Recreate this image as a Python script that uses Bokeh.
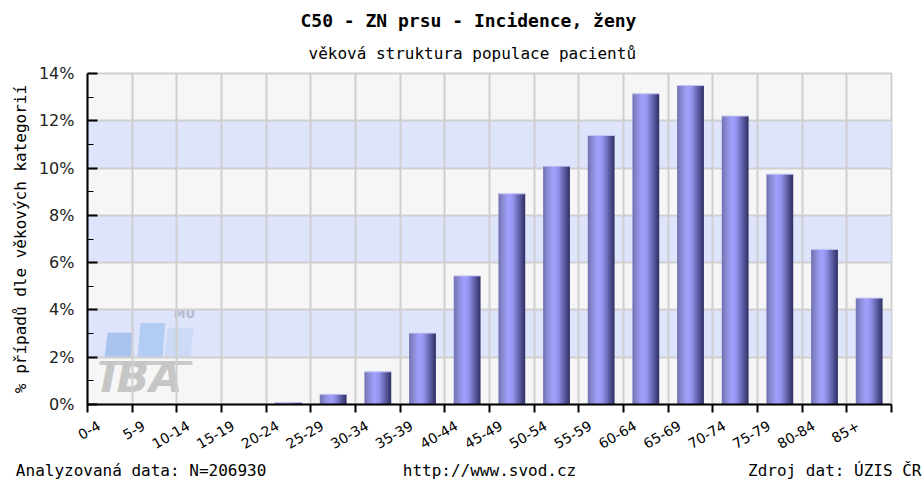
import math
from bokeh.plotting import figure
from bokeh.models import (ColumnDataSource, FixedTicker, Label, LinearAxis,
                          PrintfTickFormatter, Title)
from bokeh.transform import dodge
from bokeh.embed import file_html
from bokeh.resources import INLINE

# ---------------- data ----------------
categories = ["0-4", "5-9", "10-14", "15-19", "20-24", "25-29", "30-34", "35-39",
              "40-44", "45-49", "50-54", "55-59", "60-64", "65-69", "70-74",
              "75-79", "80-84", "85+"]
values = [0.0, 0.0, 0.0, 0.0, 0.08, 0.43, 1.38, 3.02, 5.44, 8.91, 10.08, 11.38,
          13.14, 13.49, 12.20, 9.74, 6.56, 4.50]
y_ticks = [0, 2, 4, 6, 8, 10, 12, 14]

title_text = "C50 - ZN prsu - Incidence, ženy"
subtitle_text = "věková struktura populace pacientů"
y_label_text = "% případů dle věkových kategorií"
footer_texts = ["Analyzovaná data: N=206930", "http://www.svod.cz", "Zdroj dat: ÚZIS ČR"]
footer_pos = [1.2, 9.0, 16.73]   # label centres along the x range

mono = "DejaVu Sans Mono"
sans = "DejaVu Sans"

# ---------------- figure ----------------
W, H = 924, 482
n = len(categories)
p = figure(width=W, height=H, output_backend="svg", toolbar_location=None,
           x_range=(0, n), y_range=(0, 14),
           min_border_left=87, min_border_right=33, min_border_top=73,
           min_border_bottom=78)
p.background_fill_color = "#f6f6f6"
p.border_fill_color = "white"
p.outline_line_color = "#cfcfcf"
p.outline_line_width = 2

# titles (first added = nearest the frame)
p.add_layout(Title(text=subtitle_text, text_font=mono, text_font_size="16px",
                   text_font_style="normal", align="left", offset=221,
                   standoff=22, text_color="black"), "above")
p.add_layout(Title(text=title_text, text_font=mono, text_font_size="18px",
                   text_font_style="bold", align="left", offset=213,
                   standoff=0, text_color="black"), "above")

# alternating bands
band_src = ColumnDataSource(dict(
    y=[y_ticks[i] + 1 for i in range(1, len(y_ticks) - 1, 2)]))
p.hbar(y="y", height=2, left=0, right=n, source=band_src,
       fill_color="#dde4fb", line_color=None, level="image")

# logo watermark (decoration)
logo_cols = ["#a9c3ee", "#b3ccf3", "#ccdaf6"]
logo_xs = [[0.381, 0.963, 1.030, 0.448],
           [1.119, 1.679, 1.746, 1.186],
           [1.724, 2.306, 2.373, 1.791]]
logo_ys = [[1.97, 1.97, 3.03, 3.03],
           [1.97, 1.97, 3.45, 3.45],
           [1.97, 1.97, 3.24, 3.24]]
p.patches(xs=logo_xs, ys=logo_ys, fill_color=logo_cols, line_color=None,
          level="image")
p.quad(left=[0.269], right=[2.351], bottom=[1.67], top=[1.84],
       fill_color="#c9c9c9", line_color=None, level="image")
p.add_layout(Label(x=0.29, y=0.12, text="IBA", text_font=sans,
                   text_font_style="bold italic", text_font_size="43px",
                   text_color="#c6c6c6", level="image"))
p.add_layout(Label(x=1.925, y=3.54, text="MU", text_font=sans,
                   text_font_style="bold", text_font_size="12px",
                   text_color="#b4bad2", level="image"))

# grid
p.xgrid.ticker = FixedTicker(ticks=list(range(n + 1)))
p.ygrid.ticker = FixedTicker(ticks=y_ticks)
p.xgrid.grid_line_color = "#cfcfcf"
p.ygrid.grid_line_color = "#cfcfcf"
p.xgrid.grid_line_width = 2
p.ygrid.grid_line_width = 2

# bars with cylinder-like shading
src = ColumnDataSource(dict(x=[i + 0.5 for i in range(n)], top=values))
bar_w = 0.6
stops = [(0.0, (0x70, 0x70, 0xb0)), (0.15, (0x88, 0x88, 0xd0)),
         (0.38, (0xa2, 0xa2, 0xff)), (0.55, (0x94, 0x94, 0xee)),
         (0.75, (0x66, 0x66, 0xb0)), (1.0, (0x2e, 0x2e, 0x62))]


def grad(t):
    for (t0, c0), (t1, c1) in zip(stops[:-1], stops[1:]):
        if t0 <= t <= t1:
            f = (t - t0) / (t1 - t0)
            return "#%02x%02x%02x" % tuple(int(round(a + (b - a) * f)) for a, b in zip(c0, c1))
    return "#2e2e62"


ns = 16
sw = bar_w / ns
for k in range(ns):
    wk = sw * 1.6 if k < ns - 1 else sw
    wk = min(wk, bar_w - k * sw)
    off = -bar_w / 2 + k * sw + wk / 2
    p.vbar(x=dodge("x", off, range=p.x_range), top="top", width=wk,
           source=src, fill_color=grad((k + 0.5) / ns), line_color=None)
p.segment(x0=dodge("x", -bar_w / 2, range=p.x_range), y0="top",
          x1=dodge("x", bar_w / 2, range=p.x_range), y1="top", source=src,
          line_color="#c4c4f4", line_width=1)

# x axis: boundary tick marks (minor) + shifted category labels (major)
label_shift = 0.26
xa = p.xaxis[0]
xa.ticker = FixedTicker(ticks=[i + label_shift for i in range(n)],
                        minor_ticks=list(range(n + 1)))
xa.major_label_overrides = {i + label_shift: c for i, c in enumerate(categories)}
xa.major_label_orientation = math.radians(30)
xa.axis_line_color = "black"
xa.axis_line_width = 2
xa.major_tick_line_color = None
xa.major_tick_in = 0
xa.major_tick_out = 0
xa.minor_tick_line_color = "black"
xa.minor_tick_line_width = 2
xa.minor_tick_in = 0
xa.minor_tick_out = 8
xa.major_label_text_font = sans
xa.major_label_text_font_size = "14px"
xa.major_label_text_color = "black"
xa.major_label_standoff = 12

# footer line carried by a bare axis below the category labels
fa = LinearAxis(ticker=FixedTicker(ticks=footer_pos),
                major_label_overrides={v: t for v, t in zip(footer_pos, footer_texts)})
fa.axis_line_color = None
fa.major_tick_line_color = None
fa.minor_tick_line_color = None
fa.major_tick_in = 0
fa.major_tick_out = 0
fa.major_label_text_font = mono
fa.major_label_text_font_size = "16px"
fa.major_label_text_color = "black"
fa.major_label_standoff = 4
p.add_layout(fa, "below")

ya = p.yaxis[0]
ya.ticker = FixedTicker(ticks=y_ticks, minor_ticks=list(range(1, 14, 2)))
ya.formatter = PrintfTickFormatter(format="%d%%")
ya.axis_line_color = "black"
ya.axis_line_width = 2
ya.major_tick_line_color = "black"
ya.major_tick_line_width = 2
ya.major_tick_in = 10
ya.major_tick_out = 0
ya.minor_tick_line_color = "black"
ya.minor_tick_line_width = 1
ya.minor_tick_in = 6
ya.minor_tick_out = 0
ya.major_label_text_font = sans
ya.major_label_text_font_size = "16px"
ya.major_label_text_color = "#222222"
ya.major_label_standoff = 13
ya.axis_label = y_label_text
ya.axis_label_text_font = mono
ya.axis_label_text_font_size = "16px"
ya.axis_label_text_font_style = "normal"
ya.axis_label_text_color = "black"
ya.axis_label_standoff = 6

open("out.html", "w").write(file_html(p, INLINE))
